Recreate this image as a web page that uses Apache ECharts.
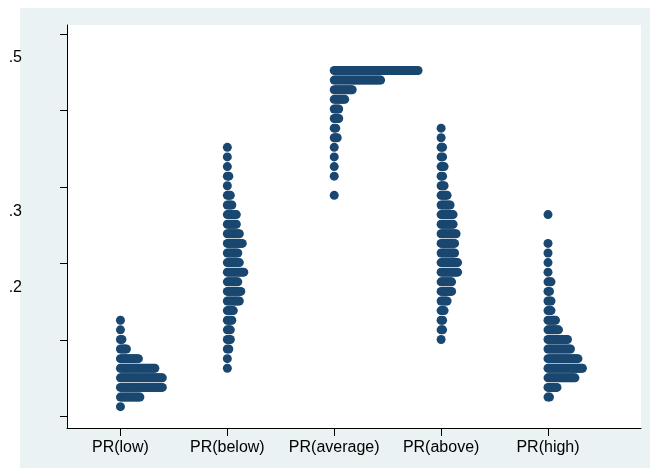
<!DOCTYPE html>
<html>
<head>
<meta charset="utf-8">
<script src="https://cdn.jsdelivr.net/npm/echarts@6/dist/echarts.min.js"></script>
<style>
    html, body { margin: 0; padding: 0; background: #fff; }
    #wrap { position: relative; width: 650px; height: 468px; }
    #bg { position: absolute; left: 20px; top: 8px; width: 630px; height: 460px; background: #eaf2f3; }
    #main { position: absolute; left: 0; top: 0; width: 650px; height: 468px; }
</style>
</head>
<body>
<div id="wrap"><div id="bg"></div><div id="main"></div></div>
<script>
// Categories along the x axis
const categories = ['PR(low)', 'PR(below)', 'PR(average)', 'PR(above)', 'PR(high)'];

// Bin centres (shared by all groups), bottom to top
const binCenters = [
    0.0131, 0.0256, 0.0382, 0.0507, 0.0633, 0.0758, 0.0884, 0.1009, 0.1135, 0.1260,
    0.1386, 0.1511, 0.1637, 0.1762, 0.1888, 0.2013, 0.2139, 0.2264, 0.2390, 0.2515,
    0.2641, 0.2766, 0.2892, 0.3017, 0.3143, 0.3268, 0.3394, 0.3519, 0.3645, 0.3770,
    0.3896, 0.4021, 0.4147, 0.4272, 0.4398, 0.4523
];

// Dot counts per bin for each group (same order as binCenters)
const lowCounts = [
    1, 14, 29, 29, 24, 13, 5, 2, 1, 1,
    0, 0, 0, 0, 0, 0, 0, 0, 0, 0,
    0, 0, 0, 0, 0, 0, 0, 0, 0, 0,
    0, 0, 0, 0, 0, 0
];
const belowCounts = [
    0, 0, 0, 0, 1, 1, 2, 3, 3, 4,
    5, 9, 10, 8, 12, 9, 8, 11, 9, 7,
    7, 4, 3, 1, 2, 1, 1, 1, 0, 0,
    0, 0, 0, 0, 0, 0
];
const averageCounts = [
    0, 0, 0, 0, 0, 0, 0, 0, 0, 0,
    0, 0, 0, 0, 0, 0, 0, 0, 0, 0,
    0, 0, 1, 0, 1, 1, 1, 1, 3, 2,
    4, 4, 8, 13, 32, 57
];
const aboveCounts = [
    0, 0, 0, 0, 0, 0, 0, 1, 2, 2,
    3, 5, 8, 8, 12, 12, 10, 10, 11, 9,
    9, 7, 5, 3, 2, 3, 2, 2, 1, 1,
    0, 0, 0, 0, 0, 0
];
const highCounts = [
    0, 2, 7, 19, 24, 21, 16, 14, 8, 6,
    3, 3, 2, 3, 1, 1, 1, 1, 0, 0,
    1, 0, 0, 0, 0, 0, 0, 0, 0, 0,
    0, 0, 0, 0, 0, 0
];

// Axis ticks and labels
const yTickValues = [0, 0.1, 0.2, 0.3, 0.4, 0.5];
const yLabelValues = [0.5, 0.3, 0.2];
const yLabelTexts = ['.5', '.3', '.2'];
const xTickValues = [1, 2, 3, 4, 5];

const dotStep = 0.014;        // horizontal spacing between stacked dots (axis units)
const yLabelDrop = 0.0314;    // labels sit a little below their ticks in the original

const groups = [lowCounts, belowCounts, averageCounts, aboveCounts, highCounts];
const points = [];
groups.forEach((counts, g) => {
    counts.forEach((n, k) => {
        for (let i = 0; i < n; i++) {
            points.push([g + 1 + i * dotStep, binCenters[k]]);
        }
    });
});

const yLabelPos = yLabelValues.map(v => v - yLabelDrop);

const chart = echarts.init(document.getElementById('main'));
const font = 'Liberation Sans, Arial, sans-serif';

chart.setOption({
    animation: false,
    backgroundColor: 'transparent',
    grid: {
        show: true, left: 67, right: 9, top: 25, bottom: 40,
        backgroundColor: '#fff', borderWidth: 0
    },
    xAxis: {
        type: 'value', min: 0.5, max: 5.87,
        splitLine: { show: false },
        axisLine: { show: true, onZero: false, lineStyle: { color: '#000', width: 1 } },
        axisTick: { show: true, length: 8, customValues: xTickValues, lineStyle: { color: '#000' } },
        axisLabel: {
            customValues: xTickValues,
            formatter: v => categories[Math.round(v) - 1],
            margin: 12, fontSize: 16, color: '#000', fontFamily: font
        }
    },
    yAxis: {
        type: 'value', min: -0.0148, max: 0.5118,
        splitLine: { show: false },
        axisLine: { show: true, onZero: false, lineStyle: { color: '#000', width: 1 } },
        axisTick: { show: true, length: 7, customValues: yTickValues, lineStyle: { color: '#000' } },
        axisLabel: {
            customValues: yLabelPos,
            formatter: v => {
                let best = 0;
                yLabelPos.forEach((p, i) => { if (Math.abs(p - v) < Math.abs(yLabelPos[best] - v)) best = i; });
                return yLabelTexts[best];
            },
            margin: 45, fontSize: 16, color: '#000', fontFamily: font
        }
    },
    series: [{
        type: 'scatter',
        data: points,
        symbol: 'circle',
        symbolSize: 9,
        silent: true,
        itemStyle: { color: '#1a476f', opacity: 1 }
    }]
});
</script>
</body>
</html>
